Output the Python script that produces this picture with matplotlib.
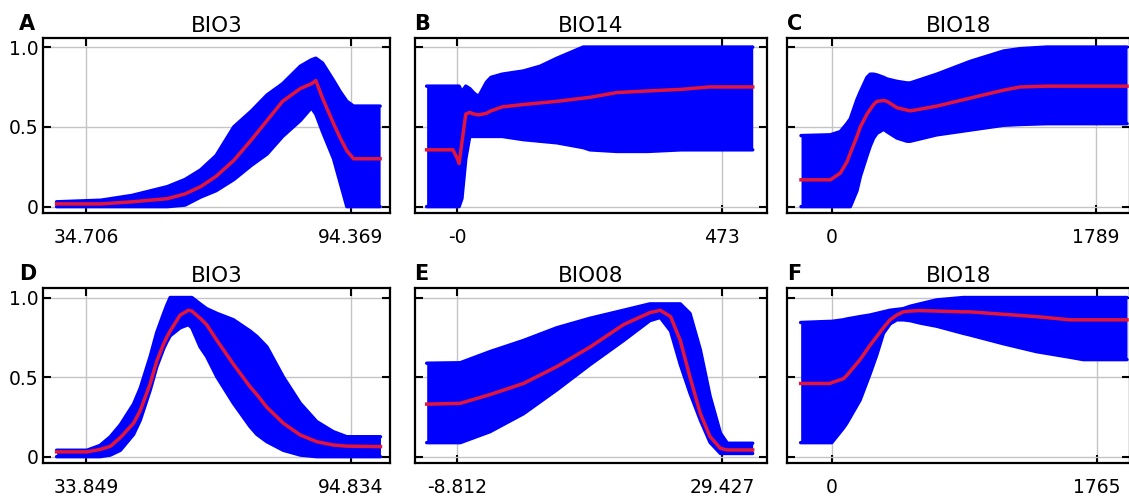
import numpy as np
import matplotlib
matplotlib.use('Agg')
import matplotlib.pyplot as plt

plt.rcParams['font.family'] = ['DejaVu Sans']

# panel A  BIO3
xa = [28, 38, 45, 53, 57, 60.5, 64, 68, 72, 75.5, 79, 83, 85.5, 86.5, 88, 90.5, 92, 93.5, 95, 101]
ma = [0.017, 0.017, 0.03, 0.05, 0.08, 0.125, 0.19, 0.29, 0.42, 0.54, 0.66, 0.74, 0.77, 0.79, 0.68, 0.52, 0.43, 0.35, 0.30, 0.30]
ua = [0.03, 0.04, 0.07, 0.125, 0.17, 0.23, 0.32, 0.5, 0.6, 0.7, 0.77, 0.88, 0.92, 0.93, 0.9, 0.79, 0.72, 0.66, 0.63, 0.63]
la = [0, 0, 0, 0, 0.01, 0.06, 0.1, 0.17, 0.26, 0.33, 0.44, 0.54, 0.62, 0.58, 0.47, 0.3, 0.15, 0, 0, 0]

# panel B  BIO14
xb = [-55, -8, 0, 3, 8, 15, 22, 30, 38, 52, 60, 80, 118, 148, 178, 225, 237, 285, 340, 400, 450, 528]
mb = [0.356, 0.356, 0.30, 0.27, 0.40, 0.58, 0.59, 0.58, 0.575, 0.585, 0.60, 0.625, 0.64, 0.65, 0.66, 0.68, 0.685, 0.715, 0.725, 0.735, 0.75, 0.75]
ub = [0.755, 0.755, 0.755, 0.755, 0.72, 0.755, 0.74, 0.71, 0.69, 0.78, 0.81, 0.83, 0.85, 0.88, 0.93, 1.0, 1.0, 1.0, 1.0, 1.0, 1.0, 1.0]
lb = [0, 0, 0, 0, 0.05, 0.3, 0.44, 0.44, 0.44, 0.44, 0.44, 0.44, 0.42, 0.41, 0.40, 0.37, 0.356, 0.346, 0.346, 0.356, 0.356, 0.356]

# panel C  BIO18
xc = [-210, -11, 56, 101, 124, 169, 192, 237, 259, 282, 305, 350, 372, 440, 508, 530, 710, 936, 1162, 1275, 1455, 1999]
mc = [0.168, 0.168, 0.21, 0.28, 0.335, 0.44, 0.50, 0.58, 0.61, 0.64, 0.66, 0.665, 0.66, 0.62, 0.605, 0.60, 0.63, 0.68, 0.73, 0.75, 0.755, 0.755]
uc = [0.445, 0.45, 0.47, 0.52, 0.55, 0.67, 0.72, 0.81, 0.83, 0.83, 0.825, 0.81, 0.80, 0.785, 0.775, 0.775, 0.83, 0.91, 0.975, 0.99, 1.0, 1.0]
lc = [0, 0, 0, 0, 0, 0.1, 0.19, 0.32, 0.38, 0.43, 0.46, 0.485, 0.47, 0.43, 0.41, 0.41, 0.45, 0.48, 0.51, 0.515, 0.52, 0.52]

# panel D  BIO3
xd = [27, 34, 37, 39.4, 41.7, 44.75, 46.3, 48.6, 50.1, 51.7, 52.4, 53.2, 55.5, 57.4, 58.2, 60.1, 61.6, 64, 67.8, 71.6, 73.2, 75.5, 79.3, 83.2, 87, 90.8, 93.9, 101.7]
md = [0.03, 0.03, 0.045, 0.065, 0.12, 0.21, 0.29, 0.46, 0.6, 0.71, 0.75, 0.79, 0.89, 0.92, 0.915, 0.87, 0.83, 0.73, 0.58, 0.44, 0.39, 0.31, 0.21, 0.136, 0.094, 0.073, 0.066, 0.063]
ud = [0.04, 0.04, 0.07, 0.125, 0.2, 0.33, 0.43, 0.63, 0.78, 0.9, 0.95, 1.0, 1.0, 1.0, 1.0, 0.96, 0.93, 0.9, 0.86, 0.79, 0.755, 0.69, 0.5, 0.335, 0.22, 0.157, 0.125, 0.125]
ld = [0, 0, 0, 0.01, 0.04, 0.14, 0.23, 0.42, 0.565, 0.68, 0.72, 0.76, 0.81, 0.83, 0.81, 0.69, 0.63, 0.5, 0.335, 0.19, 0.14, 0.094, 0.04, 0.01, 0, 0, 0, 0]

# panel E  BIO08
xe = [-13.25, -8.4, -4.1, 0.74, 5.56, 10.4, 15.2, 19, 20.5, 22, 23.4, 24.8, 26.3, 27.7, 29.2, 30.2, 33.86]
me = [0.33, 0.335, 0.39, 0.46, 0.566, 0.69, 0.83, 0.905, 0.92, 0.88, 0.73, 0.5, 0.27, 0.126, 0.052, 0.042, 0.042]
ue = [0.587, 0.59, 0.66, 0.73, 0.81, 0.87, 0.92, 0.96, 0.96, 0.96, 0.96, 0.9, 0.67, 0.38, 0.147, 0.084, 0.084]
le = [0.088, 0.088, 0.157, 0.27, 0.42, 0.58, 0.73, 0.855, 0.875, 0.79, 0.58, 0.4, 0.23, 0.09, 0.02, 0.02, 0.02]

# panel F  BIO18
xf = [-207, -11, 0, 78, 100, 189, 255, 300, 344, 389, 433, 477, 522, 588, 699, 877, 921, 1143, 1365, 1587, 1676, 1967]
mf = [0.46, 0.46, 0.465, 0.49, 0.51, 0.61, 0.70, 0.755, 0.81, 0.86, 0.89, 0.91, 0.915, 0.918, 0.915, 0.91, 0.91, 0.895, 0.88, 0.86, 0.86, 0.86]
uf = [0.843, 0.85, 0.85, 0.86, 0.865, 0.88, 0.89, 0.9, 0.91, 0.92, 0.925, 0.93, 0.945, 0.96, 0.985, 1.0, 1.0, 1.0, 1.0, 1.0, 1.0, 1.0]
lf = [0.088, 0.088, 0.088, 0.18, 0.21, 0.356, 0.52, 0.64, 0.775, 0.835, 0.86, 0.86, 0.855, 0.84, 0.82, 0.775, 0.765, 0.71, 0.66, 0.625, 0.61, 0.61]

titles = ['BIO3', 'BIO14', 'BIO18', 'BIO3', 'BIO08', 'BIO18']
letters = ['A', 'B', 'C', 'D', 'E', 'F']
xtick_vals = [[34.706, 94.369], [0, 473], [0, 1789], [33.849, 94.834], [-8.812, 29.427], [0, 1765]]
xtick_labs = [['34.706', '94.369'], ['-0', '473'], ['0', '1789'], ['33.849', '94.834'], ['-8.812', '29.427'], ['0', '1765']]
xlims = [(24.94, 103.23), (-75.8, 553.5), (-305, 2019), (23.86, 103.9), (-14.94, 35.93), (-298, 1987)]
data = [(xa, ma, ua, la), (xb, mb, ub, lb), (xc, mc, uc, lc),
        (xd, md, ud, ld), (xe, me, ue, le), (xf, mf, uf, lf)]

W, H = 1129, 497
fig = plt.figure(figsize=(W/100, H/100), dpi=100)
cols = [(43, 390), (415, 767), (787, 1130)]
rows = [(37.5, 213), (288, 463)]
letter_x = [19, 414, 787]
letter_y = [30, 280]

for k in range(6):
    r, c = divmod(k, 3)
    l, rr = cols[c]
    t, b = rows[r]
    ax = fig.add_axes([l/W, 1-b/H, (rr-l)/W, (b-t)/H])
    x, m, u, lo = data[k]
    ax.fill_between(x, lo, u, color='#0000ff', lw=0, zorder=2)
    ax.plot(x, u, color='#0000ff', lw=2.5, zorder=2, solid_capstyle='round')
    ax.plot(x, lo, color='#0000ff', lw=2.5, zorder=2, solid_capstyle='round')
    ax.plot(x, m, color='#e3163a', lw=2.5, zorder=3)
    ax.set_xlim(*xlims[k])
    ax.set_ylim(-0.04, 1.06)
    ax.set_xticks(xtick_vals[k])
    ax.set_xticklabels(xtick_labs[k])
    ax.set_yticks([0, 0.5, 1.0])
    if c == 0:
        ax.set_yticklabels(['0', '0.5', '1.0'])
    else:
        ax.set_yticklabels([])
    ax.grid(True, color='#c4c4c4', lw=1, zorder=1)
    ax.set_axisbelow(True)
    ax.tick_params(direction='in', top=True, right=True, length=6, width=1.5,
                   labelsize=13.5, colors='black')
    ax.tick_params(axis='x', pad=11)
    ax.tick_params(axis='y', pad=3)
    for s in ax.spines.values():
        s.set_linewidth(1.6)
    ax.set_title(titles[k], fontsize=15.5, pad=4)
    fig.text(letter_x[c]/W, 1-letter_y[r]/H, letters[k], fontsize=15, fontweight='bold',
             ha='left', va='baseline')

fig.savefig('out.png', dpi=100)
